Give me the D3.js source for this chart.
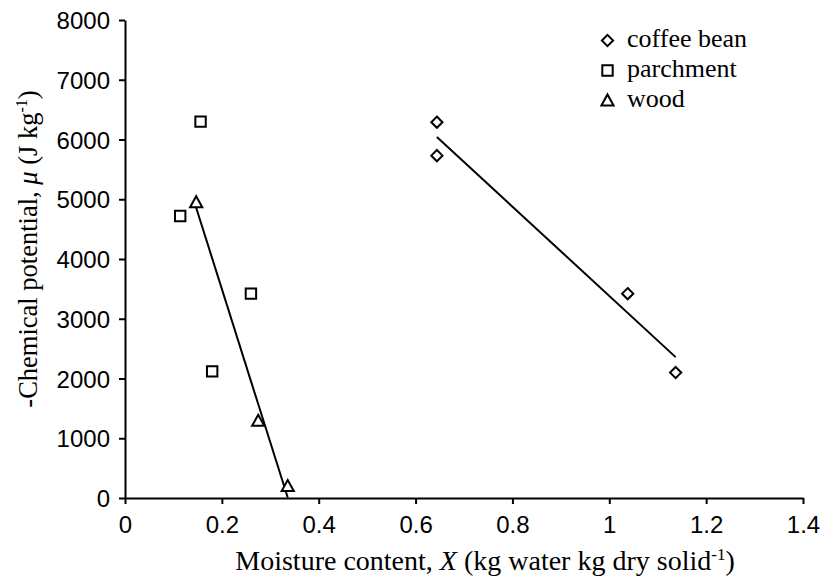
<!DOCTYPE html>
<html>
<head>
<meta charset="utf-8">
<script src="https://cdn.jsdelivr.net/npm/d3@7"></script>
<style>
  html, body { margin: 0; padding: 0; background: #fff; }
  svg { display: block; }
</style>
</head>
<body>
<svg id="chart" width="823" height="579"></svg>
<script>
// ---- data ----
const seriesNames = ["coffee bean", "parchment", "wood"];
const coffeeX = [0.644, 0.644, 1.038, 1.137];
const coffeeY = [6290, 5730, 3420, 2100];
const parchmentX = [0.156, 0.114, 0.260, 0.180];
const parchmentY = [6300, 4720, 3420, 2120];
const woodX = [0.147, 0.275, 0.336];
const woodY = [4950, 1290, 200];
const xTicks = [0, 0.2, 0.4, 0.6, 0.8, 1, 1.2, 1.4];
const yTicks = [0, 1000, 2000, 3000, 4000, 5000, 6000, 7000, 8000];

const svg = d3.select("#chart");
const x = d3.scaleLinear().domain([0, 1.4]).range([125, 803]);
const y = d3.scaleLinear().domain([0, 8000]).range([498, 20]);

const sansFont = "'Liberation Sans', Arial, sans-serif";
const serifFont = "'Liberation Serif', 'Times New Roman', serif";

// axes
const xAxis = svg.append("g").attr("transform", `translate(0,${y(0)})`)
  .call(d3.axisBottom(x).tickValues(xTicks).tickSizeInner(6).tickSizeOuter(0).tickPadding(9)
    .tickFormat(d => String(+d.toFixed(1))));
const yAxis = svg.append("g").attr("transform", `translate(${x(0)},0)`)
  .call(d3.axisLeft(y).tickValues(yTicks).tickSizeInner(6).tickSizeOuter(0).tickPadding(9)
    .tickFormat(d => String(d)));
[xAxis, yAxis].forEach(g => {
  g.selectAll("path.domain").attr("stroke", "#000").attr("stroke-width", 2);
  g.selectAll(".tick line").attr("stroke", "#000").attr("stroke-width", 2);
  g.selectAll(".tick text").attr("fill", "#000")
    .style("font-family", sansFont).style("font-size", "24px");
});
xAxis.selectAll(".tick text").attr("dy", null).attr("y", 35);
yAxis.selectAll(".tick text").attr("dy", "0.36em");

// regression trendlines
function fit(xs, ys) {
  const mx = d3.mean(xs), my = d3.mean(ys);
  const sxy = d3.sum(xs, (v, i) => (v - mx) * (ys[i] - my));
  const sxx = d3.sum(xs, v => (v - mx) * (v - mx));
  const b = sxy / sxx, a = my - b * mx;
  const x0 = d3.min(xs), x1 = d3.max(xs);
  return [[x0, a + b * x0], [x1, a + b * x1]];
}
const line = d3.line().x(d => x(d[0])).y(d => y(d[1]));
[[coffeeX, coffeeY], [woodX, woodY]].forEach(([xs, ys]) => {
  svg.append("path").attr("d", line(fit(xs, ys)))
    .attr("fill", "none").attr("stroke", "#000").attr("stroke-width", 2);
});

// markers
const diamond = s => `M0,${-s}L${s},0L0,${s}L${-s},0Z`;
const square = s => `M${-s},${-s}H${s}V${s}H${-s}Z`;
const triangle = s => `M0,${-s * 1.05}L${s * 1.05},${s * 0.85}L${-s * 1.05},${s * 0.85}Z`;
const shapes = [diamond(5.6), square(5.2), triangle(5.8)];
const seriesData = [[coffeeX, coffeeY], [parchmentX, parchmentY], [woodX, woodY]];
seriesData.forEach(([xs, ys], k) => {
  svg.append("g").selectAll("path").data(xs.map((v, i) => [v, ys[i]])).join("path")
    .attr("transform", d => `translate(${x(d[0])},${y(d[1])})`)
    .attr("d", shapes[k]).attr("fill", "#fff").attr("stroke", "#000").attr("stroke-width", 2);
});

// legend
const legend = svg.append("g");
seriesNames.forEach((name, k) => {
  const by = 47 + k * 30;
  legend.append("path").attr("transform", `translate(607.5,${by - 6.5})`)
    .attr("d", shapes[k]).attr("fill", "#fff").attr("stroke", "#000").attr("stroke-width", 2);
  legend.append("text").attr("x", 627).attr("y", by).text(name)
    .style("font-family", serifFont).style("font-size", "26px").attr("fill", "#000");
});

// axis titles
const xt = svg.append("text").attr("x", 485).attr("y", 570).attr("text-anchor", "middle")
  .style("font-family", serifFont).style("font-size", "28px").attr("fill", "#000");
xt.append("tspan").text("Moisture content, ");
xt.append("tspan").attr("font-style", "italic").text("X");
xt.append("tspan").text(" (kg water kg dry solid");
xt.append("tspan").attr("dy", -10).style("font-size", "17px").text("-1");
xt.append("tspan").attr("dy", 10).text(")");

const yt = svg.append("text").attr("transform", "translate(37,249) rotate(-90)").attr("text-anchor", "middle")
  .style("font-family", serifFont).style("font-size", "26.5px").attr("fill", "#000");
yt.append("tspan").text("-Chemical potential, ");
yt.append("tspan").attr("font-style", "italic").text("μ");
yt.append("tspan").text(" (J kg");
yt.append("tspan").attr("dy", -10).style("font-size", "16px").text("-1");
yt.append("tspan").attr("dy", 10).text(")");
</script>
</body>
</html>
